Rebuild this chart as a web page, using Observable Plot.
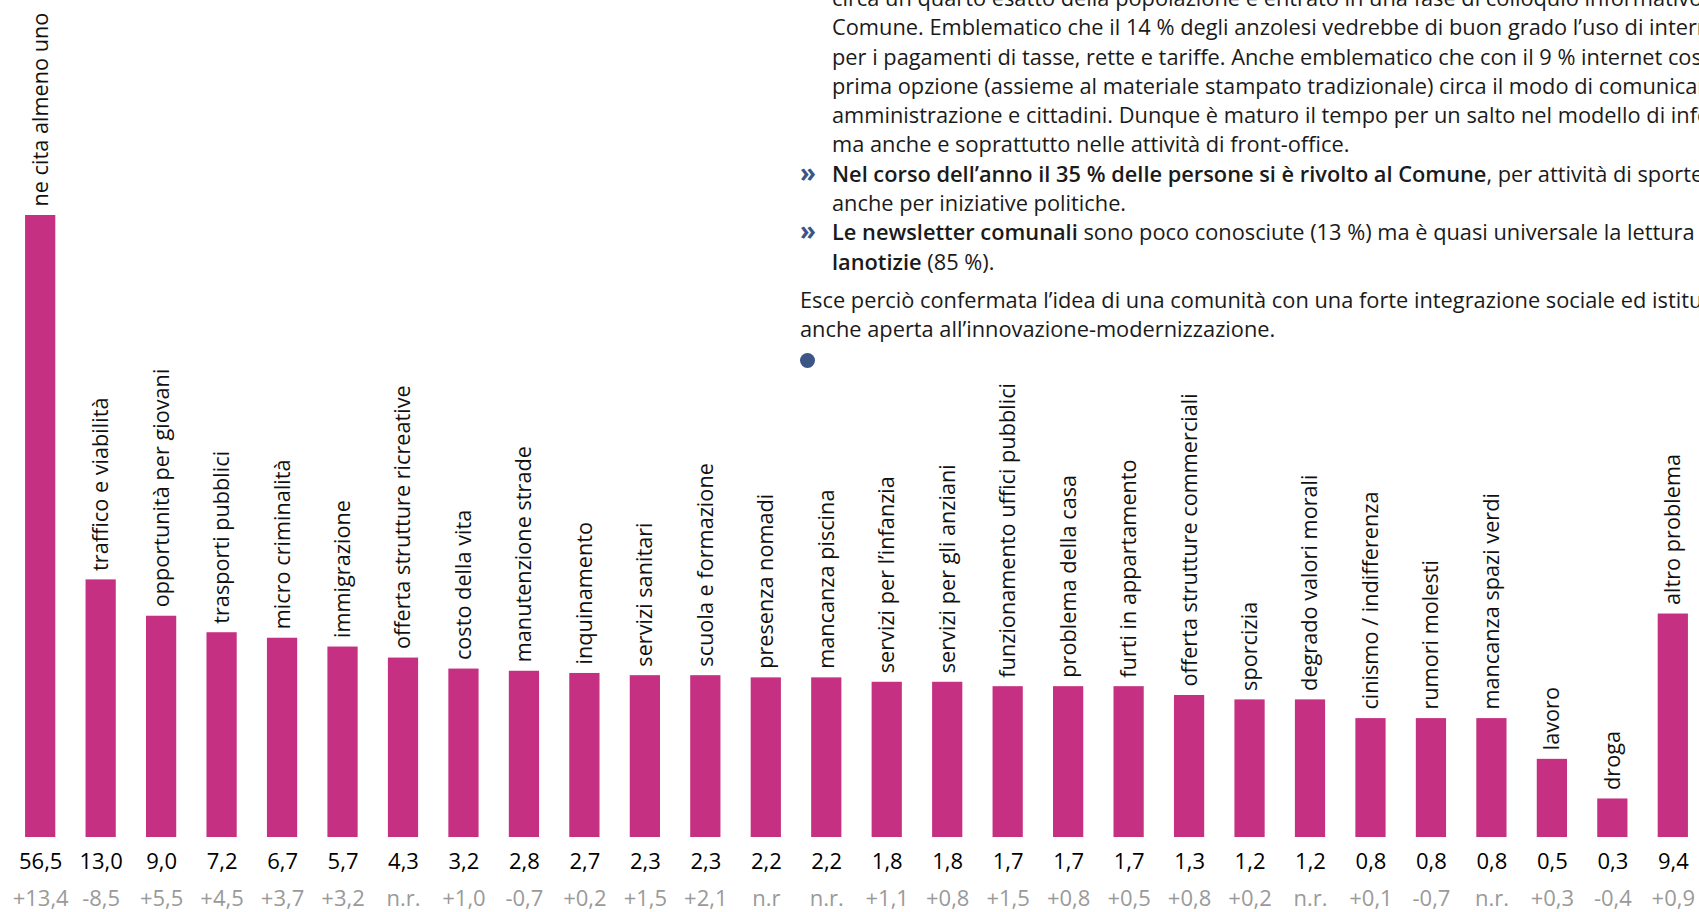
<!DOCTYPE html>
<html>
<head>
<meta charset="utf-8">
<script src="https://cdn.jsdelivr.net/npm/d3@7"></script>
<script src="https://cdn.jsdelivr.net/npm/@observablehq/plot@0.6"></script>
<style>
  html, body { margin: 0; padding: 0; background: #fff; overflow: hidden; width: 1699px; height: 912px; }
  #chart { position: absolute; left: 0; top: 0; }
  #text { position: absolute; left: 800px; top: -17px; font-family: "Open Sans", sans-serif; font-size: 21.8px; color: #1a1a1a; white-space: nowrap; }
  #text .l { height: 29.3px; line-height: 29.3px; position: relative; }
  #text .in { padding-left: 32px; }
  #text .bul { position: absolute; left: 0; top: -1px; color: #3b5587; font-weight: 700; font-size: 26px; }
  #text .gap { height: 9px; }
  #text b { font-weight: 600; }
  #dot { position: absolute; left: 800px; top: 353px; width: 15px; height: 15px; border-radius: 50%; background: #3b5587; }
</style>
</head>
<body>
<div id="chart"></div>
<div id="text">
  <div class="l in">circa un quarto esatto della popolazione è entrato in una fase di colloquio informativo col</div>
  <div class="l in">Comune. Emblematico che il 14 % degli anzolesi vedrebbe di buon grado l’uso di internet</div>
  <div class="l in">per i pagamenti di tasse, rette e tariffe. Anche emblematico che con il 9 % internet costituisca la</div>
  <div class="l in">prima opzione (assieme al materiale stampato tradizionale) circa il modo di comunicare tra</div>
  <div class="l in">amministrazione e cittadini. Dunque è maturo il tempo per un salto nel modello di informazione</div>
  <div class="l in">ma anche e soprattutto nelle attività di front-office.</div>
  <div class="l in"><span class="bul">»</span><b>Nel corso dell’anno il 35 % delle persone si è rivolto al Comune</b>, per attività di sportello</div>
  <div class="l in">anche per iniziative politiche.</div>
  <div class="l in"><span class="bul">»</span><b>Le newsletter comunali</b> sono poco conosciute (13 %) ma è quasi universale la lettura di</div>
  <div class="l in"><b>lanotizie</b> (85 %).</div>
  <div class="gap"></div>
  <div class="l">Esce perciò confermata l’idea di una comunità con una forte integrazione sociale ed istituzionale</div>
  <div class="l">anche aperta all’innovazione-modernizzazione.</div>
</div>
<div id="dot"></div>
<script>
const categories = [
  "ne cita almeno uno", "traffico e viabilità", "opportunità per giovani", "trasporti pubblici",
  "micro criminalità", "immigrazione", "offerta strutture ricreative", "costo della vita",
  "manutenzione strade", "inquinamento", "servizi sanitari", "scuola e formazione",
  "presenza nomadi", "mancanza piscina", "servizi per l’infanzia", "servizi per gli anziani",
  "funzionamento uffici pubblici", "problema della casa", "furti in appartamento",
  "offerta strutture commerciali", "sporcizia", "degrado valori morali", "cinismo / indifferenza",
  "rumori molesti", "mancanza spazi verdi", "lavoro", "droga", "altro problema"
];
const values = [56.5, 13.0, 9.0, 7.2, 6.7, 5.7, 4.3, 3.2, 2.8, 2.7, 2.3, 2.3, 2.2, 2.2,
  1.8, 1.8, 1.7, 1.7, 1.7, 1.3, 1.2, 1.2, 0.8, 0.8, 0.8, 0.5, 0.3, 9.4];
const changes = ["+13,4", "-8,5", "+5,5", "+4,5", "+3,7", "+3,2", "n.r.", "+1,0", "-0,7", "+0,2",
  "+1,5", "+2,1", "n.r", "n.r.", "+1,1", "+0,8", "+1,5", "+0,8", "+0,5", "+0,8", "+0,2", "n.r.",
  "+0,1", "-0,7", "n.r.", "+0,3", "-0,4", "+0,9"];
// drawn bar lengths (graphic scale, first bar = 56.5)
const barLength = [56.5, 23.4, 20.1, 18.6, 18.1, 17.3, 16.3, 15.3, 15.1, 14.9, 14.7, 14.7,
  14.5, 14.5, 14.1, 14.1, 13.7, 13.7, 13.7, 12.9, 12.5, 12.5, 10.8, 10.8, 10.8, 7.1, 3.5, 20.3];

const data = categories.map((c, i) => ({
  cat: c, value: values[i], change: changes[i], len: barLength[i],
  label: d3.format(".1f")(values[i]).replace(".", ",")
}));

const font = "Open Sans, sans-serif";
const chart = Plot.plot({
  width: 1699,
  height: 912,
  marginLeft: 16,
  marginRight: 2,
  marginTop: 215,
  marginBottom: 75,
  style: { fontFamily: font, background: "transparent" },
  x: { domain: categories, paddingInner: 0.5, paddingOuter: 0.15, round: false, axis: null },
  y: { domain: [0, 56.5], axis: null },
  marks: [
    Plot.barY(data, { x: "cat", y: "len", fill: "#c63082" }),
    Plot.text(data, { x: "cat", y: "len", text: "cat", rotate: -90, textAnchor: "start",
      lineAnchor: "middle", dy: -9, fontSize: 21.7, fill: "#111" }),
    Plot.text(data, { x: "cat", text: "label", frameAnchor: "bottom", lineAnchor: "middle",
      dy: 24.5, fontSize: 22, fontWeight: 500, fill: "#000" }),
    Plot.text(data, { x: "cat", text: "change", frameAnchor: "bottom", lineAnchor: "middle",
      dy: 61.5, fontSize: 22, fill: "#9a9a9a" })
  ]
});
document.getElementById("chart").appendChild(chart);
</script>
</body>
</html>
